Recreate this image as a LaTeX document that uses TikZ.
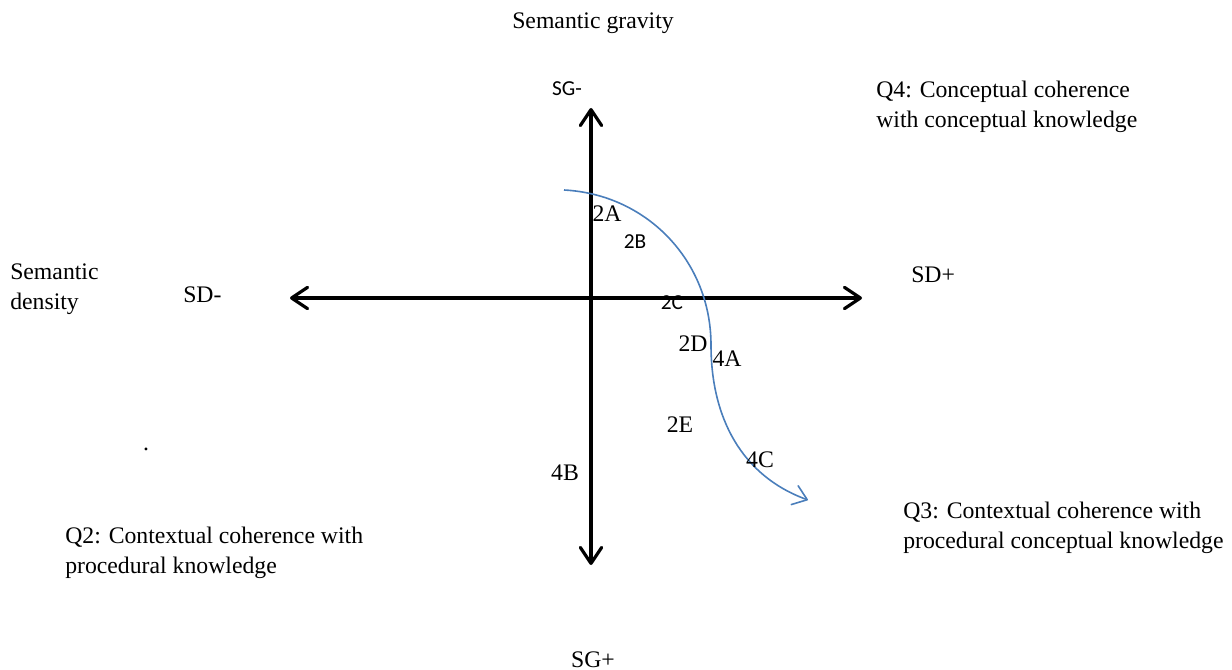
\documentclass[tikz,border=0pt]{standalone}
\usepackage{fontspec}
\setmainfont{Liberation Serif}
\newfontfamily\calibri{Carlito}
\usepackage{tikz}
\usetikzlibrary{arrows.meta}
\definecolor{azul}{RGB}{74,126,187}

\begin{document}
\begin{tikzpicture}[x=0.75pt,y=-0.75pt,
texto/.style={font=\fontsize{17.8}{22.5}\selectfont,inner sep=0pt,align=left},
sans/.style={font=\calibri\fontsize{16}{19}\selectfont,inner sep=0pt},
eje/.style={{Straight Barb[length=12pt,width=16pt,round]}-{Straight Barb[length=12pt,width=16pt,round]},line width=2.4pt},
trayecto/.style={-{Straight Barb[length=10pt,width=15pt,round]},line width=1.2pt,draw=azul}
]
\useasboundingbox (0,0) rectangle (1232,670);

% ejes
\coordinate (arriba) at (591,108);
\coordinate (abajo) at (591,565);
\coordinate (izq) at (290,298);
\coordinate (der) at (862,298);
\draw[eje] (abajo) -- (arriba);
\draw[eje] (izq) -- (der);

% trayectoria
\coordinate (inicio) at (564,190);
\coordinate (medio) at (711,345);
\coordinate (fin) at (808,500);
\draw[trayecto] (inicio) to[out=-3,in=90] (medio) to[out=-90,in=160] (fin);

% textos (base = ultima linea)
\node[texto,anchor=base] (gravedad) at (593,29) {Semantic gravity};
\node[sans,anchor=base] (sgmenos) at (567,96) {SG-};
\node[texto,anchor=base] (sgmas) at (593,667) {SG+};
\node[texto,anchor=base west] (densidad) at (10,310) {Semantic\\density};
\node[texto,anchor=base west] (sdmenos) at (183,303) {SD-};
\node[texto,anchor=base west] (sdmas) at (911,283) {SD+};
\node[texto,anchor=base west] (q4) at (876,128) {Q4: Conceptual coherence\\with conceptual knowledge};
\node[texto,anchor=base west] (q2) at (65,573) {Q2: Contextual coherence with\\procedural knowledge};
\node[texto,anchor=base west] (q3) at (903,548) {Q3: Contextual coherence with\\procedural conceptual knowledge};
\node[texto,anchor=base] (punto) at (146,450) {.};

% etapas
\node[texto,anchor=base] (e2a) at (607,222) {2A};
\node[sans,anchor=base] (e2b) at (635,249) {2B};
\node[sans,anchor=base] (e2c) at (672,310) {2C};
\node[texto,anchor=base] (e2d) at (693,352) {2D};
\node[texto,anchor=base] (e4a) at (727,367) {4A};
\node[texto,anchor=base] (e2e) at (680,432) {2E};
\node[texto,anchor=base] (e4c) at (760,467) {4C};
\node[texto,anchor=base] (e4b) at (565,480) {4B};
\end{tikzpicture}
\end{document}
